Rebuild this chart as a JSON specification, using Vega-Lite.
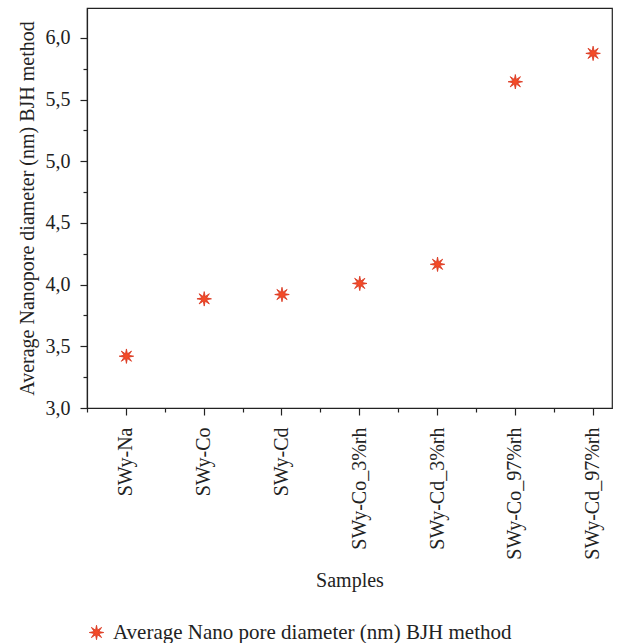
{
  "$schema": "https://vega.github.io/schema/vega-lite/v6.json",
  "width": 525,
  "height": 400,
  "autosize": {"type": "none"},
  "padding": {"left": 87, "top": 8, "right": 23, "bottom": 235},
  "background": "white",
  "config": {
    "view": {"stroke": "#222222", "strokeWidth": 1.2},
    "font": "Liberation Serif",
    "axis": {
      "labelFont": "Liberation Serif",
      "titleFont": "Liberation Serif",
      "labelFontSize": 20,
      "titleFontSize": 20,
      "titleFontWeight": "normal",
      "labelColor": "#222222",
      "titleColor": "#222222",
      "domainColor": "#222222",
      "tickColor": "#222222",
      "domainWidth": 1.2,
      "tickWidth": 1.2,
      "grid": false
    }
  },
  "data": {
    "values": [
      {"sample": "SWy-Na", "diameter": 3.42},
      {"sample": "SWy-Co", "diameter": 3.885},
      {"sample": "SWy-Cd", "diameter": 3.92},
      {"sample": "SWy-Co_3%rh", "diameter": 4.01},
      {"sample": "SWy-Cd_3%rh", "diameter": 4.165},
      {"sample": "SWy-Co_97%rh", "diameter": 5.645},
      {"sample": "SWy-Cd_97%rh", "diameter": 5.875}
    ]
  },
  "resolve": {"axis": {"x": "independent"}},
  "layer": [
    {
      "mark": {
        "type": "point",
        "filled": true,
        "shape": "M0,-1 L0.134,-0.323 L0.707,-0.707 L0.323,-0.134 L1,0 L0.323,0.134 L0.707,0.707 L0.134,0.323 L0,1 L-0.134,0.323 L-0.707,0.707 L-0.323,0.134 L-1,0 L-0.323,-0.134 L-0.707,-0.707 L-0.134,-0.323 Z",
        "size": 210,
        "opacity": 1,
        "stroke": "#d8341c",
        "strokeWidth": 0.8
      },
      "encoding": {
        "x": {
          "field": "sample",
          "type": "nominal",
          "sort": null,
          "scale": {"type": "band", "paddingInner": 0.514, "paddingOuter": 0.132, "align": 1},
          "axis": {
            "orient": "bottom",
            "title": "Samples",
            "bandPosition": 0.5,
            "tickSize": 7,
            "labelAngle": -90,
            "labelAlign": "right",
            "labelBaseline": "middle",
            "labelPadding": 12,
            "titlePadding": 11
          }
        },
        "y": {
          "field": "diameter",
          "type": "quantitative",
          "scale": {"domain": [3, 6.243], "nice": false, "zero": false},
          "axis": {
            "title": "Average Nanopore diameter (nm) BJH method",
            "values": [3, 3.25, 3.5, 3.75, 4, 4.25, 4.5, 4.75, 5, 5.25, 5.5, 5.75, 6],
            "tickSize": {"condition": {"test": "abs(datum.value*2 - round(datum.value*2)) < 0.001", "value": 7}, "value": 4},
            "labelExpr": "abs(datum.value*2 - round(datum.value*2)) < 0.001 ? replace(format(datum.value, '.1f'), '.', ',') : ''",
            "labelPadding": 10,
            "titlePadding": 8
          }
        },
        "color": {
          "datum": "Average Nano pore diameter (nm) BJH method",
          "type": "nominal",
          "scale": {"range": ["#f44b27"]},
          "legend": {
            "title": null,
            "orient": "none",
            "legendX": -1,
            "legendY": 614,
            "padding": 0,
            "symbolType": "M0,-1 L0.134,-0.323 L0.707,-0.707 L0.323,-0.134 L1,0 L0.323,0.134 L0.707,0.707 L0.134,0.323 L0,1 L-0.134,0.323 L-0.707,0.707 L-0.323,0.134 L-1,0 L-0.323,-0.134 L-0.707,-0.707 L-0.134,-0.323 Z",
            "symbolSize": 210,
            "symbolStrokeColor": "#d8341c",
            "symbolStrokeWidth": 0.8,
            "labelFont": "Liberation Serif",
            "labelFontSize": 21,
            "labelColor": "#222222",
            "labelOffset": 6,
            "labelLimit": 600
          }
        }
      }
    },
    {
      "mark": {"type": "point", "opacity": 0},
      "encoding": {
        "x": {
          "field": "sample",
          "type": "nominal",
          "sort": null,
          "axis": {
            "orient": "bottom",
            "title": null,
            "labels": false,
            "domain": false,
            "bandPosition": -0.529,
            "tickSize": 4
          }
        }
      }
    }
  ]
}
